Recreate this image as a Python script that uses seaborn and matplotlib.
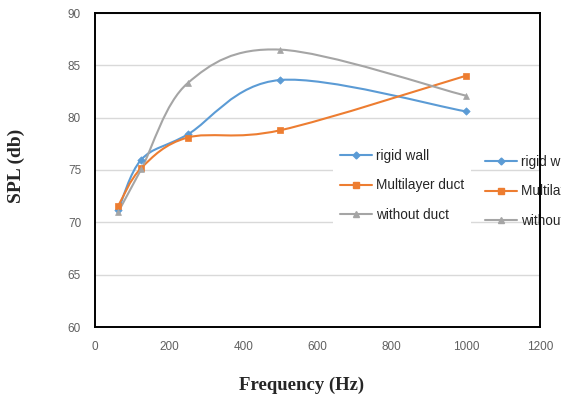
import numpy as np
import pandas as pd
import matplotlib
matplotlib.use("Agg")
import matplotlib.pyplot as plt
import seaborn as sns
from matplotlib.path import Path
from matplotlib.patches import PathPatch
from matplotlib.lines import Line2D

# ---- data ----
freq = [63, 125, 250, 500, 1000]
rigid_wall = [71.2, 76.0, 78.4, 83.6, 80.6]
multilayer_duct = [71.6, 75.2, 78.1, 78.8, 84.0]
without_duct = [71.0, 75.1, 83.3, 86.5, 82.1]
series_names = ["rigid wall", "Multilayer duct", "without duct"]
x_ticks = [0, 200, 400, 600, 800, 1000, 1200]
y_ticks = [60, 65, 70, 75, 80, 85, 90]

colors = {"rigid wall": "#5B9BD5", "Multilayer duct": "#ED7D31", "without duct": "#A5A5A5"}
markers = {"rigid wall": "D", "Multilayer duct": "s", "without duct": "^"}
msizes = {"rigid wall": 14, "Multilayer duct": 18, "without duct": 18}

df = pd.DataFrame({
    "Frequency": freq * 3,
    "SPL": rigid_wall + multilayer_duct + without_duct,
    "series": [s for s in series_names for _ in freq],
})

sns.set_theme(style="white")
fig = plt.figure(figsize=(5.61, 4.03), dpi=100)
ax = fig.add_axes([95/561, 1-327/403, 445/561, 314/403])


def smooth_path(xs, ys):
    """Excel-style smoothed line: cubic Bezier through the data points."""
    pts = np.column_stack([xs, ys]).astype(float)
    n = len(pts)
    verts = [pts[0]]
    codes = [Path.MOVETO]
    for i in range(n - 1):
        p0 = pts[i - 1] if i > 0 else pts[i]
        p1 = pts[i]
        p2 = pts[i + 1]
        p3 = pts[i + 2] if i + 2 < n else pts[i + 1]
        c1 = p1 + (p2 - p0) / 6.0
        c2 = p2 - (p3 - p1) / 6.0
        verts += [c1, c2, p2]
        codes += [Path.CURVE4] * 3
    return Path(verts, codes)


for name in series_names:
    sub = df[df.series == name]
    ax.add_patch(PathPatch(smooth_path(sub.Frequency.values, sub.SPL.values),
                           facecolor="none", edgecolor=colors[name], lw=1.5,
                           zorder=3, capstyle="round", joinstyle="round"))
    sns.scatterplot(data=sub, x="Frequency", y="SPL", ax=ax, color=colors[name],
                    marker=markers[name], s=msizes[name], edgecolor=colors[name],
                    linewidth=0.5, zorder=4, legend=False)

ax.set_xlim(0, 1200)
ax.set_ylim(60, 90)
ax.set_xticks(x_ticks)
ax.set_yticks(y_ticks)
tick_font = dict(family="Liberation Sans", size=8.5, color="#606060")
ax.set_xticklabels([str(t) for t in x_ticks], **tick_font)
ax.set_yticklabels([str(t) for t in y_ticks], **tick_font)
ax.tick_params(axis="y", length=0, pad=10)
ax.tick_params(axis="x", length=0, pad=10)
ax.grid(axis="y", color="#d9d9d9", lw=1.0)
ax.grid(axis="x", visible=False)
for sp in ax.spines.values():
    sp.set_visible(True)
    sp.set_color("black")
    sp.set_linewidth(1.4)
    sp.set_zorder(6)

ax.set_xlabel("")
ax.set_ylabel("")
fig.text(302/561, 1-385/403, "Frequency (Hz)", ha="center", va="center",
         family="Liberation Serif", weight="bold", size=13.5)
fig.text(16/561, 1-166/403, "SPL (db)", ha="center", va="center", rotation=90,
         family="Liberation Serif", weight="bold", size=14)

handles = [Line2D([], [], color=colors[n], marker=markers[n], lw=1.5,
                  markersize=3.5 if n == "rigid wall" else 4.0) for n in series_names]
leg_font = dict(family="Liberation Sans", size=9.8)
common = dict(loc="upper left", bbox_transform=fig.transFigure, prop=leg_font,
              handlelength=2.4, handletextpad=0.25, labelspacing=1.15,
              borderpad=0.5, borderaxespad=0.0)
leg1 = ax.legend(handles, series_names, bbox_to_anchor=(333/561, 1-142/403),
                 frameon=True, facecolor="white", edgecolor="none", framealpha=1,
                 fancybox=False, **common)
leg1.set_zorder(5)
ax.add_artist(leg1)
leg2 = ax.legend(handles, series_names, bbox_to_anchor=(478/561, 1-148/403),
                 frameon=False, **common)
leg2.set_zorder(2)
leg2.set_clip_on(False)

fig.savefig("out.png", dpi=100)
